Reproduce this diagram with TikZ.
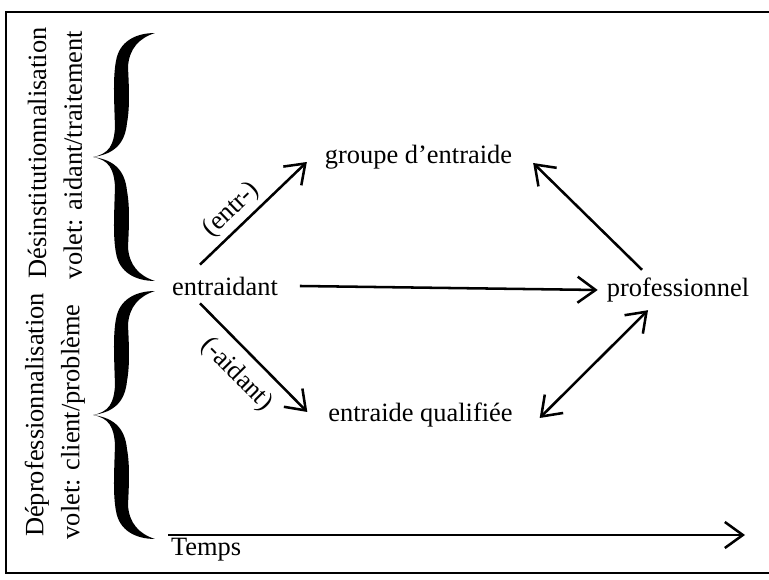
\documentclass[tikz,border=0pt]{standalone}
\usepackage{fontspec}
\setmainfont{Liberation Serif}
\usetikzlibrary{arrows.meta}
\newcommand{\halfbrace}{(0,0) .. controls (16,3) and (21,12) .. (22,30) .. controls (21,60) and (20,80) .. (23,96)
  .. controls (26,115) and (42,124) .. (62,124) .. controls (46,119) and (36,108) .. (35,90)
  .. controls (36,70) and (37,50) .. (34,34) .. controls (32,14) and (22,3) .. (0,0) -- cycle}
\tikzset{
  lbl/.style={font=\fontsize{18.8}{22}\selectfont, inner sep=2pt},
  vlbl/.style={lbl, rotate=90},
  elbl/.style={font=\fontsize{18.8}{22}\selectfont, inner sep=2pt, sloped},
  arr/.style={-{Straight Barb[length=4.5mm, width=6.5mm]}, line width=1.8pt},
  darr/.style={{Straight Barb[length=4.5mm, width=6.5mm]}-{Straight Barb[length=4.5mm, width=6.5mm]}, line width=1.8pt},
  bigbrace/.pic={\begin{scope}[x=0.025cm, y=0.025cm]
      \fill \halfbrace; \fill[yscale=-1] \halfbrace;
    \end{scope}},
  framel/.style={line width=1.8pt}}
\begin{document}
\begin{tikzpicture}
    \useasboundingbox (0,0) rectangle (19.225,14.5);
    \draw[framel] (19.225,14.2) -- (0.15,14.2) -- (0.15,0.175) -- (19.225,0.175);
    \node[vlbl] (desinst) at (0.925,10.675) {Désinstitutionnalisation};
    \node[vlbl] (voletA) at (1.825,10.625) {volet: aidant/traitement};
    \node[vlbl] (deprof) at (0.925,4.125) {Déprofessionnalisation};
    \node[vlbl] (voletC) at (1.825,3.95) {volet: client/problème};
    \pic at (2.325,10.575) {bigbrace};
    \pic at (2.325,4.125) {bigbrace};
    \node[lbl] (ent) at (5.625,7.35) {entraidant};
    \node[lbl] (grp) at (10.4625,10.575) {groupe d’entraide};
    \node[lbl] (prof) at (16.95,7.25) {professionnel};
    \node[lbl] (qual) at (10.5125,4.125) {entraide qualifiée};
    \draw[arr] ([xshift=-0.625cm,yshift=0.225cm]ent.north) --
      node[elbl, pos=0.41, above=1pt] {(entr-)} ([xshift=-0.375cm,yshift=-0.125cm]grp.west);
    \draw[arr] ([xshift=-0.625cm,yshift=-0.125cm]ent.south) --
      node[elbl, pos=0.5, below=0.2cm] {(-aidant)} ([xshift=-0.45cm,yshift=0.075cm]qual.west);
    \draw[arr] ([xshift=0.475cm]ent.east) -- ([xshift=-0.15cm]prof.west);
    \draw[arr] ([xshift=-0.9cm,yshift=0.125cm]prof.north) -- ([xshift=0.45cm,yshift=-0.15cm]grp.east);
    \draw[darr] ([xshift=-0.75cm,yshift=-0.125cm]prof.south) -- ([xshift=0.6cm,yshift=-0.075cm]qual.east);
    \node[lbl, anchor=north west] (tmp) at (4.2,1.125) {Temps};
    \coordinate (tend) at (18.625,1.125);
    \draw[arr] (tmp.north west) -- (tend);
  \end{tikzpicture}
\end{document}
